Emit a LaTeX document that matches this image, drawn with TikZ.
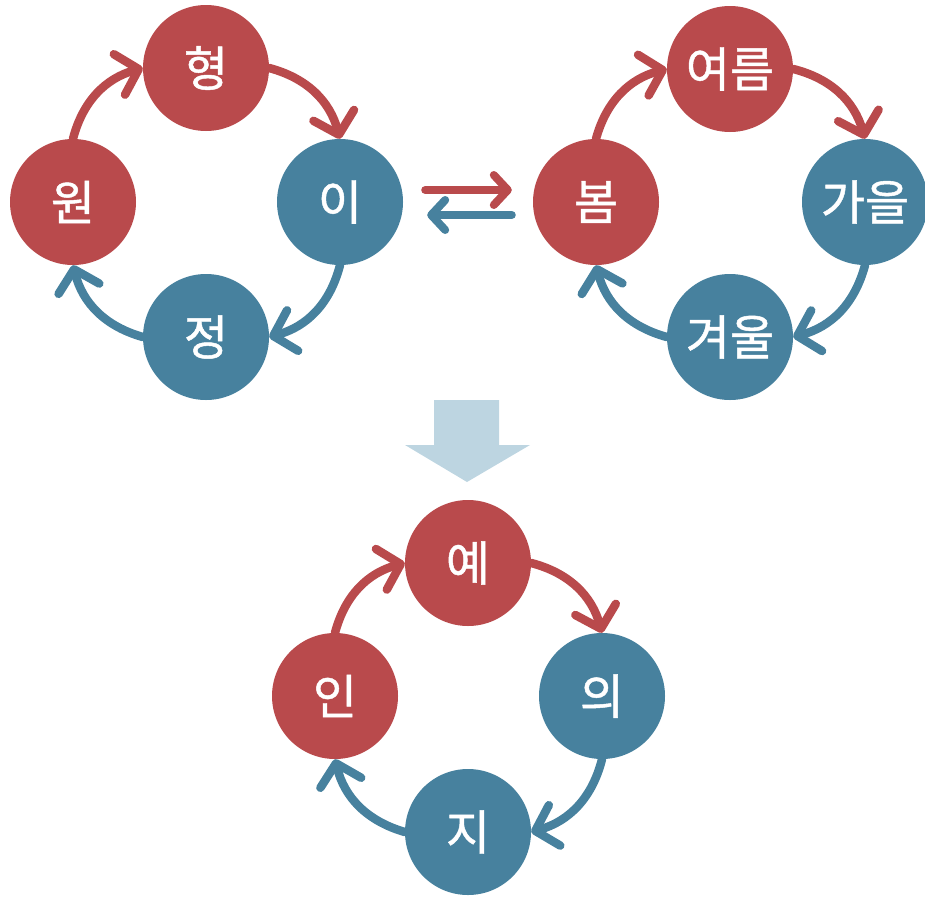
\documentclass[tikz,border=0pt]{standalone}
\usepackage{fontspec}
\setmainfont{Noto Sans CJK KR}
\newfontfamily\sitefont{Noto Sans CJK KR}[FakeBold=1]
\usetikzlibrary{arrows.meta}
\definecolor{cred}{RGB}{185,74,76}
\definecolor{cblue}{RGB}{71,129,158}
\definecolor{cpale}{RGB}{189,213,225}
\pgfdeclarelayer{edgelayer}
\pgfdeclarelayer{nodelayer}
\pgfsetlayers{edgelayer,nodelayer,main}
\tikzstyle{site}=[circle, text=white, minimum size=126pt, inner sep=0pt, font=\sitefont\fontsize{48}{54}\selectfont]
\tikzstyle{redsite}=[site, fill=cred]
\tikzstyle{bluesite}=[site, fill=cblue]
\tikzstyle{cyclearrow}=[-{Straight Barb[length=20pt,width=42pt,round]}, line width=8.5pt, line cap=round]
\tikzstyle{redarrow}=[cyclearrow, draw=cred]
\tikzstyle{bluearrow}=[cyclearrow, draw=cblue]
\tikzstyle{swaparrow}=[-{Straight Barb[length=14pt,width=30pt,round]}, line width=8pt, line cap=round]
\tikzstyle{bigarrow}=[fill=cpale]

\begin{document}
\begin{tikzpicture}[x=1pt, y=1pt]
            \useasboundingbox (0,0) rectangle (925,-897);
            \begin{pgfonlayer}{nodelayer}
                % first cycle
                \node [style=redsite] (hyeong) at (206, -68) {형};
                \node [style=bluesite] (yi) at (340, -202) {이};
                \node [style=bluesite] (jeong) at (206, -337) {정};
                \node [style=redsite] (won) at (73, -202) {원};
                % seasons
                \node [style=redsite] (yeoreum) at (730, -69) {여름};
                \node [style=bluesite] (gaeul) at (865, -202) {가을};
                \node [style=bluesite] (gyeoul) at (730, -337) {겨울};
                \node [style=redsite] (bom) at (596, -202) {봄};
                % virtues
                \node [style=redsite] (ye) at (468, -563) {예};
                \node [style=bluesite] (ui) at (602, -696) {의};
                \node [style=bluesite] (ji) at (468, -832) {지};
                \node [style=redsite] (in) at (335, -696) {인};
            \end{pgfonlayer}
            \begin{pgfonlayer}{edgelayer}
                \draw [style=redarrow, bend left=30] (won.north) to (hyeong.west);
                \draw [style=redarrow, bend left=30] (hyeong.east) to (yi.north);
                \draw [style=bluearrow, bend left=30] (yi.south) to (jeong.east);
                \draw [style=bluearrow, bend left=30] (jeong.west) to (won.south);
                \draw [style=redarrow, bend left=30] (bom.north) to (yeoreum.west);
                \draw [style=redarrow, bend left=30] (yeoreum.east) to (gaeul.north);
                \draw [style=bluearrow, bend left=30] (gaeul.south) to (gyeoul.east);
                \draw [style=bluearrow, bend left=30] (gyeoul.west) to (bom.south);
                \draw [style=redarrow, bend left=30] (in.north) to (ye.west);
                \draw [style=redarrow, bend left=30] (ye.east) to (ui.north);
                \draw [style=bluearrow, bend left=30] (ui.south) to (ji.east);
                \draw [style=bluearrow, bend left=30] (ji.west) to (in.south);
                \draw [style=swaparrow, draw=cred, shorten <=22pt, shorten >=21pt] ([yshift=12pt]yi.east) to ([yshift=12pt]bom.west);
                \draw [style=swaparrow, draw=cblue, shorten <=21pt, shorten >=24pt] ([yshift=-13pt]bom.west) to ([yshift=-13pt]yi.east);
                \fill [style=bigarrow] (434, -400) -- (499, -400) -- (499, -445) -- (530, -445) -- (467, -482) -- (405, -445) -- (434, -445) -- cycle;
            \end{pgfonlayer}
        \end{tikzpicture}
\end{document}
